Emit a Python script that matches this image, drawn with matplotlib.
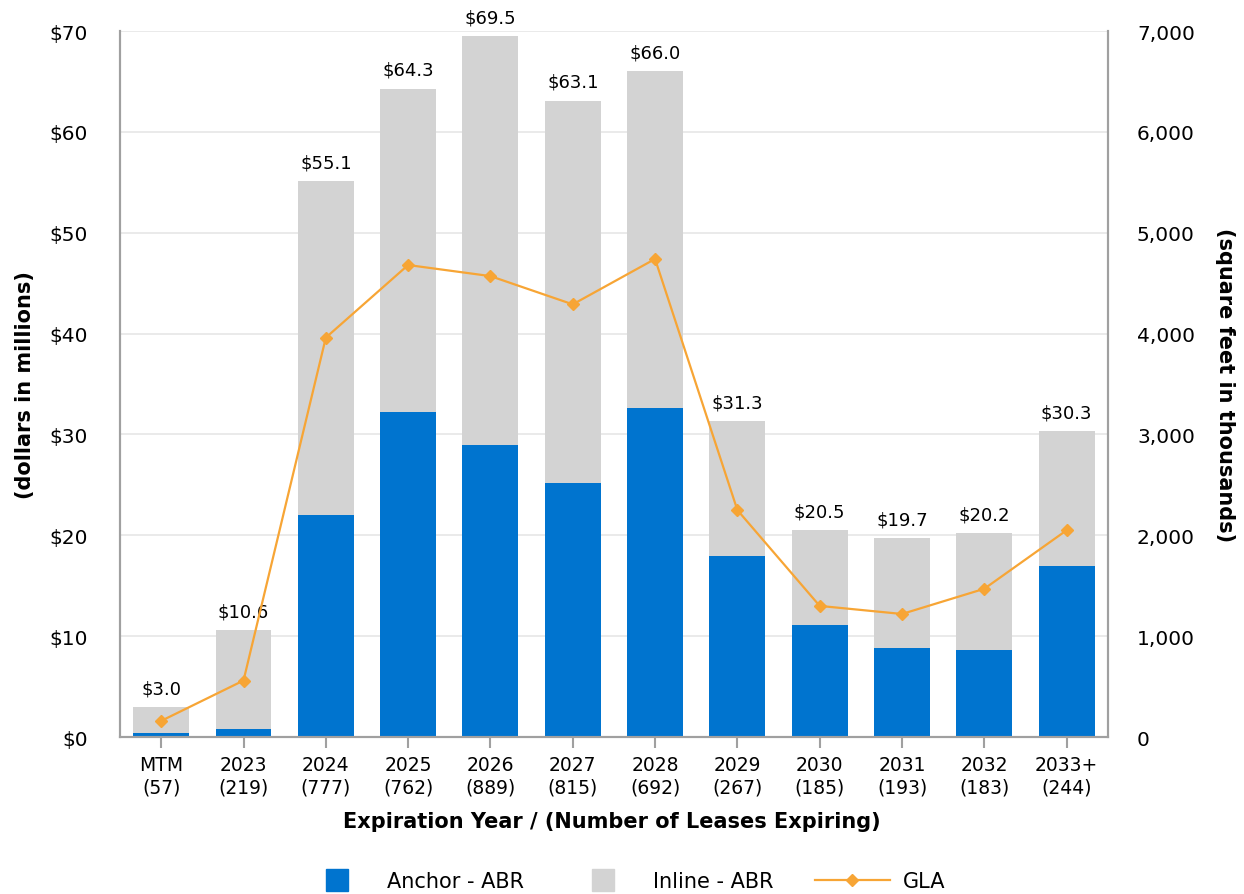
import numpy as np
import matplotlib.pyplot as plt
from matplotlib.lines import Line2D

# lease expiration data
years = ["MTM", "2023", "2024", "2025", "2026", "2027", "2028", "2029", "2030", "2031", "2032", "2033+"]
lease_counts = [57, 219, 777, 762, 889, 815, 692, 267, 185, 193, 183, 244]
total_abr = [3.0, 10.6, 55.1, 64.3, 69.5, 63.1, 66.0, 31.3, 20.5, 19.7, 20.2, 30.3]
anchor_abr = [0.4, 0.8, 22.0, 32.2, 29.0, 25.2, 32.6, 17.9, 11.1, 8.8, 8.6, 17.0]
gla = [160, 560, 3960, 4680, 4570, 4290, 4740, 2250, 1300, 1220, 1470, 2050]

inline_abr = [t - a for t, a in zip(total_abr, anchor_abr)]

BLUE = "#0074CF"
GRAY = "#D3D3D3"
ORANGE = "#F7A535"
SPINE = "#A0A0A0"

plt.rcParams['font.family'] = ['DejaVu Sans']

fig = plt.figure(figsize=(12.44, 8.95), dpi=100)
ax = fig.add_axes([0.0965, 0.1754, 0.794, 0.7888])
ax2 = ax.twinx()

x = np.arange(len(years))
width = 0.68

ax.bar(x, anchor_abr, width, color=BLUE, zorder=2)
ax.bar(x, inline_abr, width, bottom=anchor_abr, color=GRAY, zorder=2)

for xi, t in zip(x, total_abr):
    ax.annotate(f"${t:.1f}", (xi, t), xytext=(0, 7), textcoords="offset points",
                ha="center", va="bottom", fontsize=13)

ax.set_ylim(0, 70)
ax.set_yticks(range(0, 71, 10))
ax.set_yticklabels([f"${v}" for v in range(0, 71, 10)], fontsize=14.5)
ax.set_xlim(-0.5, len(years) - 0.5)
ax.set_xticks(x)
ax.set_xticklabels([f"{y}\n({n})" for y, n in zip(years, lease_counts)], fontsize=13.5)
ax.tick_params(axis="x", length=8, color=SPINE, width=1.5, pad=5)
ax.tick_params(axis="y", length=0, pad=23)
ax.grid(axis="y", color="#E6E6E6", linewidth=1.2, zorder=0)
ax.set_axisbelow(True)

ax2.plot(x, gla, color=ORANGE, marker="D", markersize=6.5, linewidth=1.6, zorder=3)
ax2.set_ylim(0, 7000)
ax2.set_yticks(range(0, 7001, 1000))
ax2.set_yticklabels([f"{v:,}" for v in range(0, 7001, 1000)], fontsize=14.5)
ax2.tick_params(axis="y", length=0, pad=21)

for a in (ax, ax2):
    a.spines["top"].set_visible(False)
    for s in ("left", "right", "bottom"):
        a.spines[s].set_color(SPINE)
        a.spines[s].set_linewidth(1.5)

ax.set_ylabel("(dollars in millions)", fontsize=15, fontweight="bold", va="center")
ax.yaxis.set_label_coords(-0.0962, 0.5)
ax2.set_ylabel("(square feet in thousands)", fontsize=15, fontweight="bold", rotation=-90,
               va="center")
ax2.yaxis.set_label_coords(1.1184, 0.5)
ax.set_xlabel("Expiration Year / (Number of Leases Expiring)", fontsize=15,
              fontweight="bold", va="center")
ax.xaxis.set_label_coords(0.4975, -0.119)

handles = [
    Line2D([0], [0], color=BLUE, marker="s", markersize=16, linestyle="none", label="Anchor - ABR"),
    Line2D([0], [0], color=GRAY, marker="s", markersize=16, linestyle="none", label="Inline - ABR"),
    Line2D([0], [0], color=ORANGE, marker="D", markersize=6.5, linewidth=1.6, label="GLA"),
]
fig.legend(handles=handles, loc="center", bbox_to_anchor=(0.5, 0.0145), ncol=3,
           frameon=False, fontsize=15, handlelength=3.6, handletextpad=0.6,
           columnspacing=2.0, borderpad=0)

fig.savefig("out.png", dpi=100)
